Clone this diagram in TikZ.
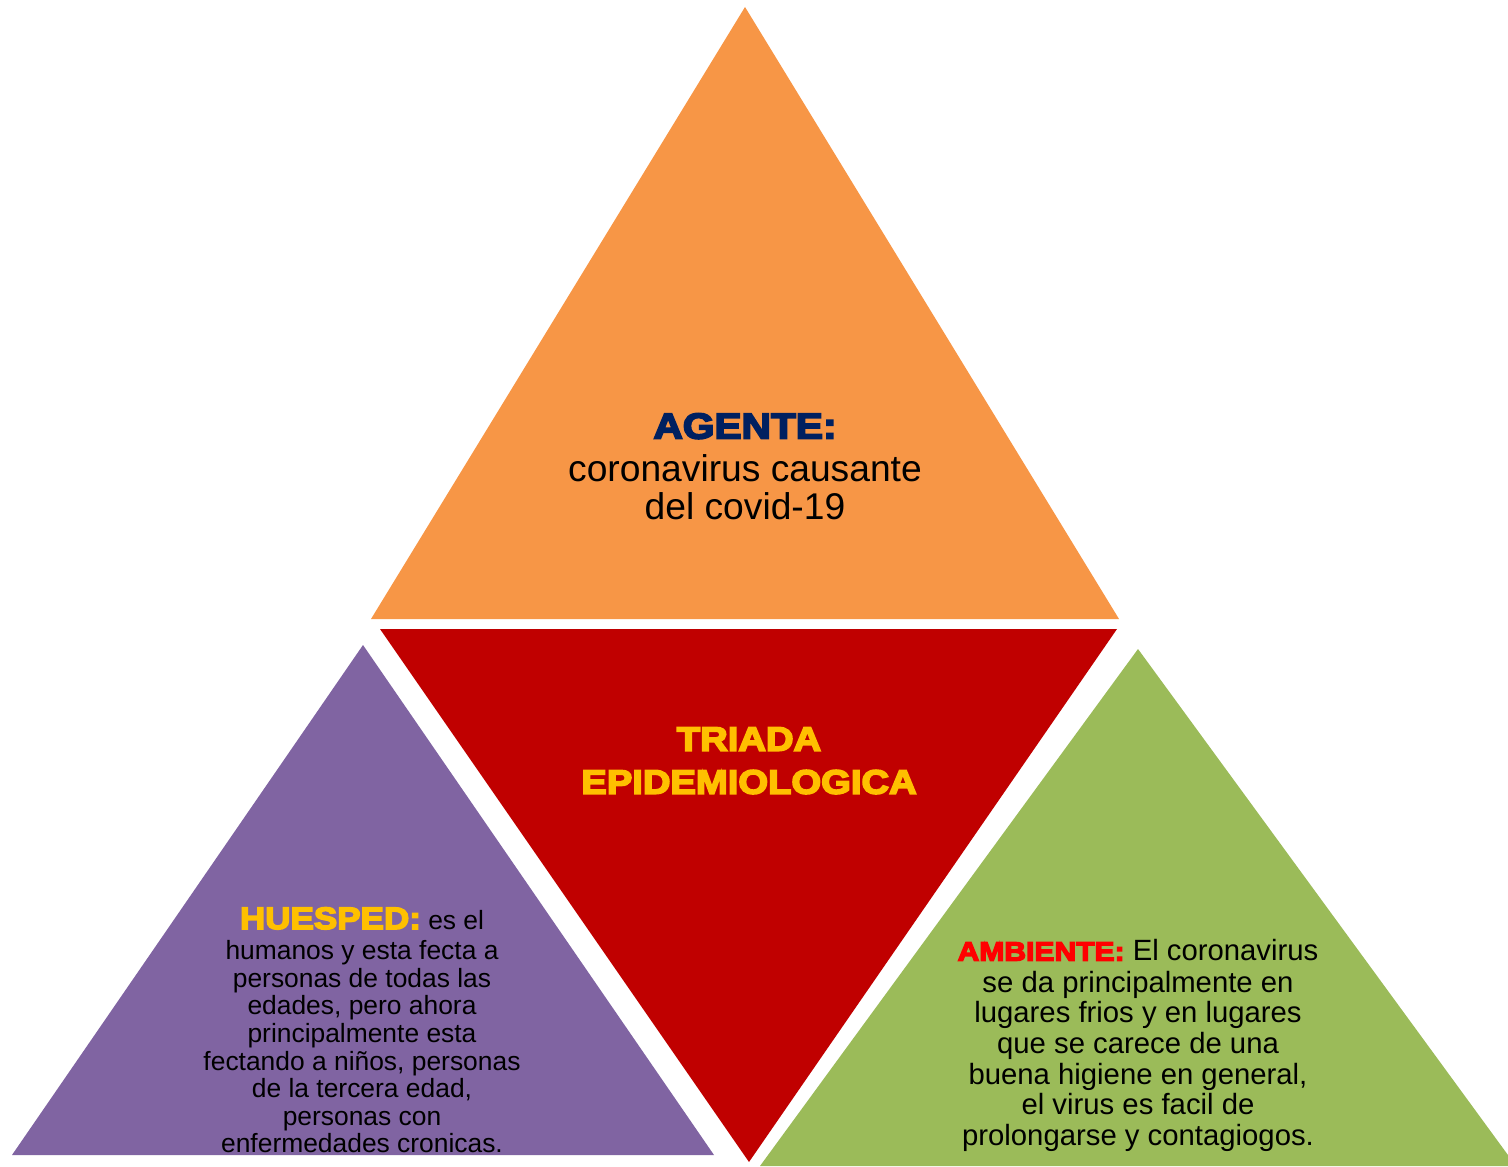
\documentclass[tikz,border=0pt]{standalone}
\usepackage{fontspec}
\setmainfont{Liberation Sans}[BoldFeatures={FakeBold=5,FakeStretch=1.13}]
\definecolor{agentefill}{HTML}{F79646}
\definecolor{triadafill}{HTML}{C00000}
\definecolor{huespedfill}{HTML}{8064A2}
\definecolor{ambientefill}{HTML}{9BBB59}
\definecolor{gold}{HTML}{FFC000}
\definecolor{navy}{HTML}{002060}
\definecolor{brightred}{HTML}{FF0000}

\begin{document}
\begin{tikzpicture}[x=0.5pt, y=-0.5pt,
    txt/.style = {inner sep=0pt, align=center, anchor=north}]
  \useasboundingbox (0,0) rectangle (1508,1166);
  \clip (0,0) rectangle (1508,1166);
  \fill[agentefill] (745,7) -- (1119,619) -- (371,619) -- cycle;
  \fill[triadafill] (380,629) -- (1117,629) -- (749,1162) -- cycle;
  \fill[huespedfill] (363,645) -- (714,1155) -- (12,1155) -- cycle;
  \fill[ambientefill] (1138,649) -- (1516,1166) -- (760,1166) -- cycle;

  \node[txt, font=\fontsize{18.6}{19}\selectfont] (agente) at (745,413)
    {{\fontsize{18}{19}\selectfont\bfseries\color{navy}AGENTE:}\\[2.5pt]
     coronavirus causante\\ del covid-19};
  \node[txt, font=\fontsize{16.9}{21.5}\selectfont\bfseries, text=gold] (triada) at (749,727)
    {TRIADA\\ EPIDEMIOLOGICA};
  \node[txt, font=\fontsize{13.2}{13.8}\selectfont] (huesped) at (362,907)
    {{\fontsize{15.5}{16}\selectfont\bfseries\color{gold}HUESPED:} es el\\[1.5pt]
     humanos y esta fecta a\\ personas de todas las\\ edades, pero ahora\\
     principalmente esta\\ fectando a niños, personas\\ de la tercera edad,\\
     personas con\\ enfermedades cronicas.};
  \node[txt, font=\fontsize{14.65}{15.3}\selectfont] (ambiente) at (1138,939)
    {{\fontsize{13.3}{15.3}\selectfont\bfseries\color{brightred}AMBIENTE:} El coronavirus\\[0.5pt]
     se da principalmente en\\ lugares frios y en lugares\\ que se carece de una\\
     buena higiene en general,\\ el virus es facil de\\ prolongarse y contagiogos.};
\end{tikzpicture}
\end{document}
